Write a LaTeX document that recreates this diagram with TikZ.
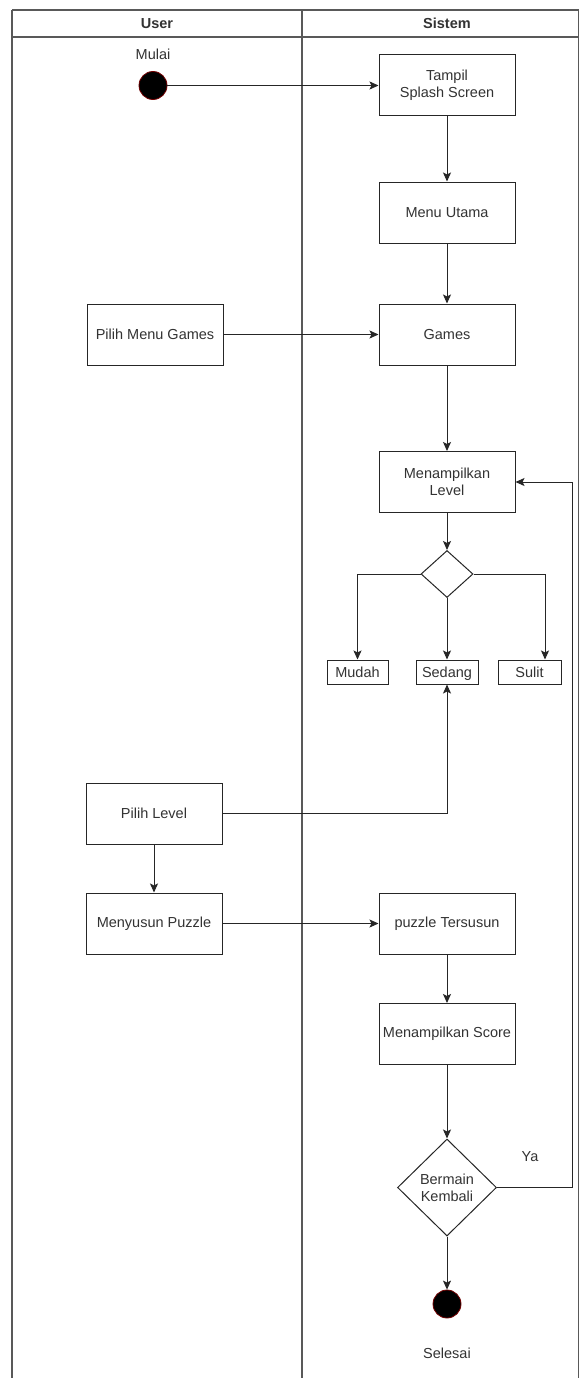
\documentclass[tikz,border=0pt]{standalone}
\usepackage{fontspec}
\setmainfont{Liberation Sans}
\usetikzlibrary{arrows.meta,shapes.geometric}

\begin{document}
\begin{tikzpicture}[x=1pt, y=-1pt,
  every node/.style={font=\fontsize{14.5}{17}\selectfont, text=black!80},
  lane/.style={black!65, line width=1.3pt},
  activity/.style={draw=black!85, line width=1pt, rectangle, minimum width=136pt, minimum height=61pt, align=center, inner sep=2pt},
  choice/.style={draw=black!85, line width=1pt, rectangle, minimum height=24pt, text height=10.5pt, text depth=0pt, inner sep=2pt},
  decision/.style={draw=black!85, line width=1pt, diamond, inner sep=0pt, align=center},
  endpoint/.style={circle, fill=black, draw=red!45!black, line width=0.8pt, minimum size=28pt, inner sep=0pt},
  flow/.style={draw=black!85, line width=1pt, -{Stealth[length=9pt, width=8pt, inset=2pt]}},
  link/.style={draw=black!85, line width=1pt}]
\useasboundingbox (0,0) rectangle (580,1378);
\fill[white] (0,0) rectangle (580,1378);
% swimlanes
\draw[lane] (12,10) -- (578.5,10);
\draw[lane] (12,37) -- (578.5,37);
\draw[lane] (12,10) -- (12,1378);
\draw[lane] (302,10) -- (302,1378);
\draw[lane] (578.5,10) -- (578.5,1378);
\node[font=\fontsize{14.5}{17}\selectfont\bfseries] (hUser) at (157,23.5) {User};
\node[font=\fontsize{14.5}{17}\selectfont\bfseries] (hSistem) at (447,23.5) {Sistem};

% nodes
\node (mulaiLbl) at (153,54) {Mulai};
\node[endpoint] (mulai) at (153,85.5) {};
\node[activity] (splash) at (447,85.5) {Tampil\\Splash Screen};
\node[activity] (menu) at (447,212.5) {Menu Utama};
\node[activity] (games) at (447,334.5) {Games};
\node[activity] (pilihGames) at (155,334.5) {Pilih Menu Games};
\node[activity] (level) at (447,482) {Menampilkan\\Level};
\node[decision, minimum width=52pt, minimum height=47pt] (pilih) at (447,574) {};
\node[choice, minimum width=61pt] (mudah) at (357.5,672) {Mudah};
\node[choice, minimum width=62pt] (sedang) at (447,672) {Sedang};
\node[choice, minimum width=63pt] (sulit) at (529.5,672) {Sulit};
\node[activity] (pilihLevel) at (154,813.5) {Pilih Level};
\node[activity] (susun) at (154,923.5) {Menyusun Puzzle};
\node[activity] (tersusun) at (447,923.5) {puzzle Tersusun};
\node[activity] (score) at (447,1034) {Menampilkan Score};
\node[decision, minimum width=99pt, minimum height=97pt] (ulang) at (447,1187.5) {Bermain\\Kembali};
\node (ya) at (530,1157) {Ya};
\node[endpoint] (selesai) at (447,1304) {};
\node (selesaiLbl) at (447,1353) {Selesai};
\coordinate (loop) at (572,0);

% connectors
\draw[flow] (mulai.east) -- (mulai.east -| splash.west);
\draw[flow] (splash) -- (menu);
\draw[flow] (menu) -- (games);
\draw[flow] (pilihGames) -- (games);
\draw[flow] (games) -- (level);
\draw[flow] (level) -- (pilih);
\draw[flow] (pilih.west) -| (mudah.north);
\draw[flow] (pilih) -- (sedang);
\draw[flow] (pilih.east) -| ([xshift=15.5pt]sulit.north);
\draw[flow] (pilihLevel.east) -| (sedang.south);
\draw[flow] (pilihLevel) -- (susun);
\draw[flow] (susun) -- (tersusun);
\draw[flow] (tersusun) -- (score);
\draw[flow] (score) -- (ulang);
\draw[flow] (ulang.east) -- (ulang.east -| loop) |- (level.east);
\draw[flow] (ulang) -- (selesai);
\end{tikzpicture}
\end{document}
